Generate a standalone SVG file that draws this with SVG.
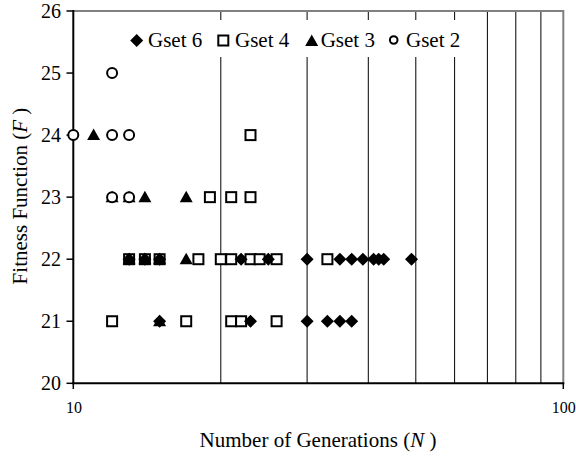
<svg xmlns="http://www.w3.org/2000/svg" xmlns:xlink="http://www.w3.org/1999/xlink" width="576" height="457" viewBox="0 0 576 457">
<style>
text{font-family:"Liberation Serif","Times New Roman",serif;fill:#000}
.tick{font-size:20px;text-anchor:end}
.xtick{font-size:16px;text-anchor:middle}
.title{font-size:21px;text-anchor:middle}
.leg{font-size:21px}
.grid{stroke:#000;stroke-width:1}
.axis{stroke:#000;stroke-width:2}
.frame{stroke:#808080;stroke-width:2;fill:none}
</style>
<defs>
<polygon id="dia" points="0,-6.5 6.5,0 0,6.5 -6.5,0" fill="#000"/>
<rect id="sq" x="-5" y="-5" width="10" height="10" fill="#fff" stroke="#000" stroke-width="2"/>
<polygon id="tri" points="0,-6.5 6.5,5 -6.5,5" fill="#000"/>
<circle id="cir" r="5" fill="#fff" stroke="#000" stroke-width="2"/>
<circle id="cirleg" r="3.8" fill="#fff" stroke="#000" stroke-width="2"/>
</defs>
<rect width="576" height="457" fill="#fff"/>
<g id="gridlines">
<line class="grid" x1="220.8" y1="11" x2="220.8" y2="383.3"/>
<line class="grid" x1="307.1" y1="11" x2="307.1" y2="383.3"/>
<line class="grid" x1="368.3" y1="11" x2="368.3" y2="383.3"/>
<line class="grid" x1="415.8" y1="11" x2="415.8" y2="383.3"/>
<line class="grid" x1="454.6" y1="11" x2="454.6" y2="383.3"/>
<line class="grid" x1="487.4" y1="11" x2="487.4" y2="383.3"/>
<line class="grid" x1="515.8" y1="11" x2="515.8" y2="383.3"/>
<line class="grid" x1="540.9" y1="11" x2="540.9" y2="383.3"/>
</g>
<g id="frame">
<polyline class="frame" points="73.3,11 563.3,11 563.3,383.3"/>
</g>
<g id="axes">
<line class="axis" x1="73.3" y1="10" x2="73.3" y2="384.3"/>
<line class="axis" x1="72.3" y1="383.3" x2="564.3" y2="383.3"/>
<g stroke="#000" stroke-width="1.5">
<line x1="66.5" y1="11" x2="73.3" y2="11"/>
<line x1="66.5" y1="73.05" x2="73.3" y2="73.05"/>
<line x1="66.5" y1="135.1" x2="73.3" y2="135.1"/>
<line x1="66.5" y1="197.15" x2="73.3" y2="197.15"/>
<line x1="66.5" y1="259.2" x2="73.3" y2="259.2"/>
<line x1="66.5" y1="321.25" x2="73.3" y2="321.25"/>
<line x1="66.5" y1="383.3" x2="73.3" y2="383.3"/>
<line x1="73.3" y1="383.3" x2="73.3" y2="389"/>
<line x1="563.3" y1="383.3" x2="563.3" y2="389"/>
</g>
<text class="tick" x="61" y="18">26</text>
<text class="tick" x="61" y="80">25</text>
<text class="tick" x="61" y="142">24</text>
<text class="tick" x="61" y="204">23</text>
<text class="tick" x="61" y="266">22</text>
<text class="tick" x="61" y="328">21</text>
<text class="tick" x="61" y="390">20</text>
<text class="xtick" x="74" y="412.5">10</text>
<text class="xtick" x="563.8" y="412.5">100</text>
<text class="title" x="318" y="446.7">Number of Generations (<tspan font-style="italic">N</tspan> )</text>
<text class="title" transform="translate(27,196) rotate(-90)">Fitness Function (<tspan font-style="italic">F</tspan> )</text>
</g>
<g id="gset4">
<use xlink:href="#sq" x="250.5" y="135.1"/>
<use xlink:href="#sq" x="209.9" y="197.15"/>
<use xlink:href="#sq" x="231.2" y="197.15"/>
<use xlink:href="#sq" x="250.5" y="197.15"/>
<use xlink:href="#sq" x="129.1" y="259.2"/>
<use xlink:href="#sq" x="144.9" y="259.2"/>
<use xlink:href="#sq" x="159.6" y="259.2"/>
<use xlink:href="#sq" x="198.4" y="259.2"/>
<use xlink:href="#sq" x="220.8" y="259.2"/>
<use xlink:href="#sq" x="231.2" y="259.2"/>
<use xlink:href="#sq" x="250.5" y="259.2"/>
<use xlink:href="#sq" x="259.6" y="259.2"/>
<use xlink:href="#sq" x="276.6" y="259.2"/>
<use xlink:href="#sq" x="327.4" y="259.2"/>
<use xlink:href="#sq" x="112.1" y="321.25"/>
<use xlink:href="#sq" x="186.2" y="321.25"/>
<use xlink:href="#sq" x="231.2" y="321.25"/>
<use xlink:href="#sq" x="241.1" y="321.25"/>
<use xlink:href="#sq" x="276.6" y="321.25"/>
</g>
<g id="gset6">
<use xlink:href="#dia" x="129.1" y="259.2"/>
<use xlink:href="#dia" x="144.9" y="259.2"/>
<use xlink:href="#dia" x="159.6" y="259.2"/>
<use xlink:href="#dia" x="241.1" y="259.2"/>
<use xlink:href="#dia" x="268.3" y="259.2"/>
<use xlink:href="#dia" x="307.1" y="259.2"/>
<use xlink:href="#dia" x="339.9" y="259.2"/>
<use xlink:href="#dia" x="351.7" y="259.2"/>
<use xlink:href="#dia" x="362.9" y="259.2"/>
<use xlink:href="#dia" x="373.6" y="259.2"/>
<use xlink:href="#dia" x="378.7" y="259.2"/>
<use xlink:href="#dia" x="383.7" y="259.2"/>
<use xlink:href="#dia" x="411.5" y="259.2"/>
<use xlink:href="#dia" x="159.6" y="321.25"/>
<use xlink:href="#dia" x="250.5" y="321.25"/>
<use xlink:href="#dia" x="307.1" y="321.25"/>
<use xlink:href="#dia" x="327.4" y="321.25"/>
<use xlink:href="#dia" x="339.9" y="321.25"/>
<use xlink:href="#dia" x="351.7" y="321.25"/>
</g>
<g id="gset3">
<use xlink:href="#tri" x="93.6" y="135.1"/>
<use xlink:href="#tri" x="112.1" y="197.15"/>
<use xlink:href="#tri" x="129.1" y="197.15"/>
<use xlink:href="#tri" x="144.9" y="197.15"/>
<use xlink:href="#tri" x="186.2" y="197.15"/>
<use xlink:href="#tri" x="129.1" y="259.2"/>
<use xlink:href="#tri" x="144.9" y="259.2"/>
<use xlink:href="#tri" x="159.6" y="259.2"/>
<use xlink:href="#tri" x="186.2" y="259.2"/>
<use xlink:href="#tri" x="159.6" y="321.25"/>
</g>
<g id="gset2">
<use xlink:href="#cir" x="112.1" y="73.05"/>
<use xlink:href="#cir" x="73.3" y="135.1"/>
<use xlink:href="#cir" x="112.1" y="135.1"/>
<use xlink:href="#cir" x="129.1" y="135.1"/>
<use xlink:href="#cir" x="112.1" y="197.15"/>
<use xlink:href="#cir" x="129.1" y="197.15"/>
</g>
<g id="legend">
<rect x="128" y="20" width="342" height="37" fill="#fff"/>
<use xlink:href="#dia" x="136.7" y="40.5"/>
<text class="leg" x="148" y="47">Gset 6</text>
<use xlink:href="#sq" x="223.3" y="40.5"/>
<text class="leg" x="235" y="47">Gset 4</text>
<use xlink:href="#tri" x="311.7" y="41"/>
<text class="leg" x="320.7" y="47">Gset 3</text>
<use xlink:href="#cirleg" x="393.7" y="40"/>
<text class="leg" x="406" y="47">Gset 2</text>
</g>
</svg>
